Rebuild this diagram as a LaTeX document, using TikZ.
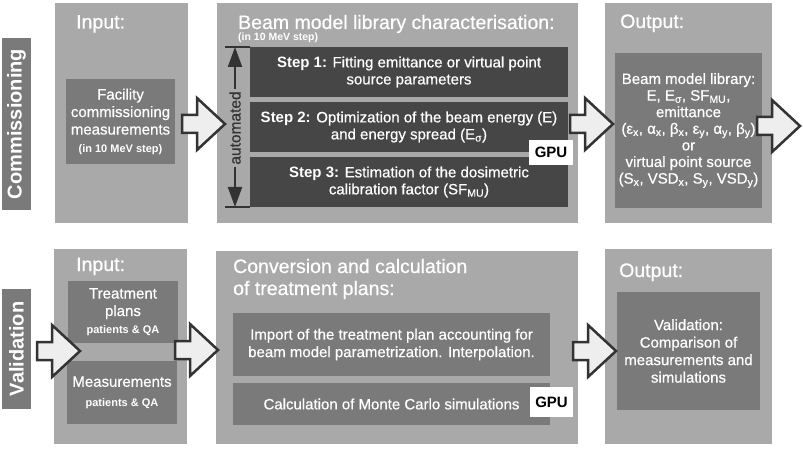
\documentclass[tikz,border=0pt]{standalone}
\usepackage{fontspec}
\setmainfont{Liberation Sans}[UprightFeatures={FakeBold=0.6}]
\usetikzlibrary{arrows.meta}
\definecolor{outerc}{HTML}{A9A9A9}
\definecolor{midc}{HTML}{7A7A7A}
\definecolor{darkc}{HTML}{464646}
\definecolor{arrowfill}{HTML}{EEEEEE}
\definecolor{arrowline}{HTML}{333333}
\newcommand\lo[1]{\textsubscript{#1}}
\tikzset{
 box/.style={anchor=north west, inner sep=0pt, outer sep=0pt, draw=none, align=center, text=white},
 outerbox/.style={box, fill=outerc},
 midbox/.style={box, fill=midc, font=\fontsize{15}{17.5}\selectfont},
 stepbox/.style={box, fill=darkc, font=\fontsize{15}{17}\selectfont},
 labelbox/.style={box, fill=midc},
 labeltext/.style={rotate=90, text=white, inner sep=0pt, font=\bfseries\fontsize{20}{22}\selectfont},
 title/.style={anchor=base west, inner sep=0pt, text=white, font=\fontsize{19.5}{22}\selectfont},
 gpubox/.style={box, fill=white, text=black, font=\bfseries\fontsize{15}{17}\selectfont},
 autoline/.style={draw=arrowline, line width=2.2pt},
 pics/blockarrow/.style={code={\draw[fill=arrowfill, draw=arrowline, line width=2.5pt, line join=miter] (-43,-9) -- (-28,-9) -- (-28,-26) -- (0,0) -- (-28,26) -- (-28,9) -- (-43,9) -- cycle;}}
}
\begin{document}
\begin{tikzpicture}[x=1pt,y=-1pt]
\useasboundingbox[fill=white] (0,0) rectangle (803,449);
% ---------- Commissioning row ----------
\node[labelbox, minimum width=29, minimum height=172] (comm) at (2,38) {};
\node[labeltext] (commt) at (comm.center) {Commissioning};
\node[outerbox, minimum width=133, minimum height=220] (in1) at (55,3) {};
\node[title] (in1t) at (76,28.5) {Input:};
\node[midbox, minimum width=109, minimum height=85] (fac) at (66,79) {Facility\\commissioning\\measurements\\{\bfseries\fontsize{11}{13}\selectfont (in 10 MeV step)}};
\node[outerbox, minimum width=361, minimum height=220] (bm) at (217,3) {};
\node[title] (bmt) at (238,29) {Beam model library characterisation:};
\node[anchor=base west, inner sep=0pt, text=white, font=\bfseries\fontsize{10.5}{12}\selectfont] (bms) at (238,40.5) {(in 10 MeV step)};
\node[stepbox, minimum width=318, minimum height=50] (s1) at (250,47) {\textbf{Step 1:} Fitting emittance or virtual point\\source parameters};
\node[stepbox, minimum width=318, minimum height=50] (s2) at (250,102) {\textbf{Step 2:} Optimization of the beam energy (E)\\and energy spread (E\lo{σ})};
\node[stepbox, minimum width=318, minimum height=50] (s3) at (250,157) {\textbf{Step 3:} Estimation of the dosimetric\\calibration factor (SF\lo{MU})};
\node[gpubox, minimum width=44, minimum height=25] (gpu1) at (529,140) {GPU};
\coordinate (atl) at (225,47); \coordinate (atr) at (250,47);
\coordinate (abl) at (225,207); \coordinate (abr) at (250,207);
\coordinate (atop) at (235,47); \coordinate (abot) at (235,207);
\draw[autoline] (atl) -- (atr);
\draw[autoline] (abl) -- (abr);
\draw[autoline, {Triangle[width=14pt,length=20pt]}-{Triangle[width=14pt,length=20pt]}] (atop) -- (abot);
\node[rotate=90, fill=outerc, text=arrowline, inner sep=2pt, font=\fontsize{15.5}{17}\selectfont] (auto) at (235,128) {automated};
\node[outerbox, minimum width=167, minimum height=220] (out1) at (605,3) {};
\node[title] (out1t) at (620,28) {Output:};
\node[midbox, minimum width=147, minimum height=155, font=\fontsize{15}{16.6}\selectfont] (lib) at (615,53) {Beam model library:\\E, E\lo{σ}, SF\lo{MU},\\emittance\\(ε\lo{x}, α\lo{x}, β\lo{x}, ε\lo{y}, α\lo{y}, β\lo{y})\\or\\virtual point source\\(S\lo{x}, VSD\lo{x}, S\lo{y}, VSD\lo{y})};
\pic at (225,124) {blockarrow};
\pic at (613,124) {blockarrow};
\pic at (800,126) {blockarrow};
% ---------- Validation row ----------
\node[labelbox, minimum width=29, minimum height=120] (val) at (2,289) {};
\node[labeltext] (valt) at (val.center) {Validation};
\node[outerbox, minimum width=133, minimum height=195] (in2) at (54,249) {};
\node[title] (in2t) at (76,271) {Input:};
\node[midbox, minimum width=110, minimum height=62] (tp) at (68,281) {Treatment\\plans\\{\bfseries\fontsize{11}{13}\selectfont patients \& QA}};
\node[midbox, minimum width=110, minimum height=63] (meas) at (67,361) {Measurements\\[2pt]{\bfseries\fontsize{11}{13}\selectfont patients \& QA}};
\node[outerbox, minimum width=362, minimum height=193] (conv) at (216,251) {};
\node[title] (convt) at (233,273) {Conversion and calculation};
\node[title] (convt2) at (233,295) {of treatment plans:};
\node[midbox, minimum width=317, minimum height=63] (imp) at (233,313) {Import of the treatment plan accounting for\\beam model parametrization. Interpolation.};
\node[midbox, minimum width=317, minimum height=42] (calc) at (233,383) {Calculation of Monte Carlo simulations};
\node[gpubox, minimum width=43, minimum height=30] (gpu2) at (530,387) {GPU};
\node[outerbox, minimum width=167, minimum height=195] (out2) at (605,249) {};
\node[title] (out2t) at (619,277) {Output:};
\node[midbox, minimum width=143, minimum height=118] (cmp) at (617,292) {Validation:\\Comparison of\\measurements and\\simulations};
\pic at (80,351) {blockarrow};
\pic at (218,350) {blockarrow};
\pic at (616,351) {blockarrow};
\end{tikzpicture}
\end{document}
